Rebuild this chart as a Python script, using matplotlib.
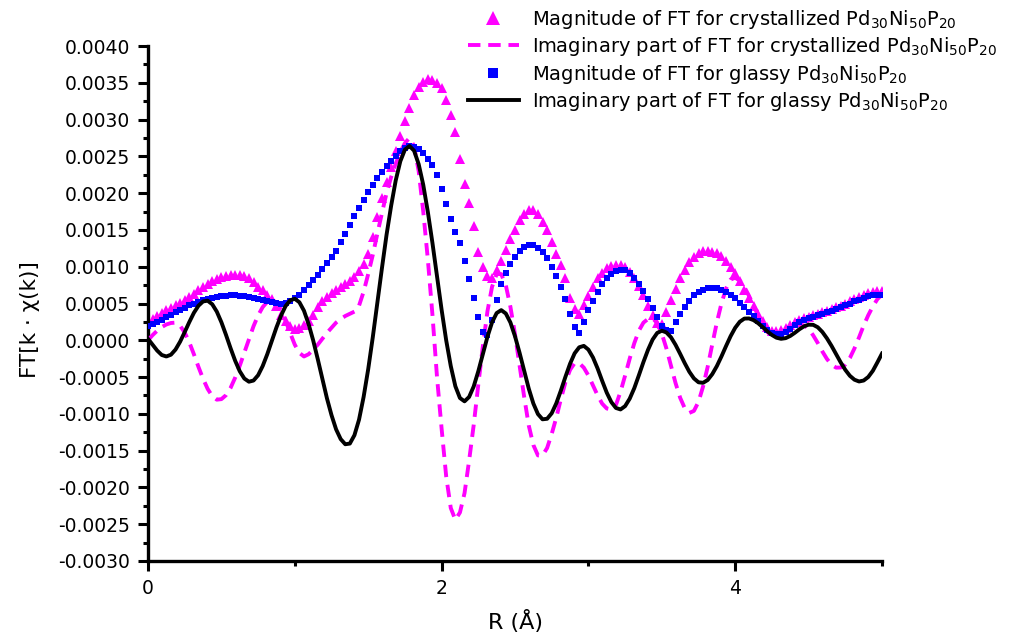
import numpy as np
import matplotlib
matplotlib.use("Agg")
import matplotlib.pyplot as plt
from matplotlib.ticker import MultipleLocator, FormatStrFormatter

plt.rcParams['font.family'] = ['DejaVu Sans']
plt.rcParams['mathtext.fontset'] = 'dejavusans'

# R grid (Å), step 1/32
R = np.linspace(0.0, 5.0, 161)

# All series values below are in units of 1e-3
mag_cryst = [
    0.26, 0.29, 0.33, 0.37, 0.41, 0.44, 0.48, 0.51, 0.55, 0.59,
    0.63, 0.68, 0.72, 0.77, 0.80, 0.83, 0.855, 0.875, 0.885, 0.89,
    0.885, 0.87, 0.84, 0.79, 0.73, 0.68, 0.62, 0.56, 0.46, 0.35,
    0.26, 0.19, 0.15, 0.17, 0.21, 0.26, 0.35, 0.45, 0.53, 0.59,
    0.64, 0.68, 0.72, 0.76, 0.80, 0.86, 0.94, 1.04, 1.17, 1.40,
    1.67, 1.93, 2.15, 2.36, 2.57, 2.78, 2.98, 3.16, 3.33, 3.44,
    3.51, 3.55, 3.54, 3.50, 3.43, 3.27, 3.06, 2.83, 2.46, 2.13,
    1.86, 1.55, 1.20, 1.00, 0.88, 0.84, 0.95, 1.08, 1.23, 1.37,
    1.50, 1.63, 1.72, 1.77, 1.77, 1.71, 1.61, 1.50, 1.33, 1.17,
    1.02, 0.84, 0.58, 0.42, 0.36, 0.48, 0.60, 0.73, 0.84, 0.92,
    0.985, 1.01, 1.03, 1.03, 1.00, 0.93, 0.85, 0.74, 0.61, 0.47,
    0.34, 0.24, 0.22, 0.38, 0.55, 0.70, 0.84, 0.96, 1.06, 1.13,
    1.18, 1.21, 1.21, 1.20, 1.18, 1.14, 1.08, 1.00, 0.91, 0.80,
    0.69, 0.58, 0.47, 0.36, 0.26, 0.18, 0.13, 0.12, 0.14, 0.17,
    0.21, 0.25, 0.28, 0.30, 0.32, 0.34, 0.36, 0.38, 0.40, 0.42,
    0.45, 0.47, 0.50, 0.53, 0.56, 0.59, 0.62, 0.64, 0.655, 0.665,
    0.67,
]

im_cryst = [
    0.0, 0.07, 0.13, 0.18, 0.215, 0.235, 0.24,
    0.197, 0.106, -0.027, -0.189, -0.362, -0.523, -0.66, -0.759, -0.807,
    -0.80, -0.746, -0.647, -0.508, -0.346, -0.168, 0.014, 0.191, 0.338, 0.451, 0.523,
    0.55, 0.516, 0.414, 0.266, 0.097, -0.06, -0.172, -0.22,
    -0.19, -0.13, -0.06, 0.02, 0.10, 0.17, 0.24, 0.29, 0.33, 0.36, 0.39, 0.47,
    0.66, 0.90, 1.16, 1.45, 1.73, 2.00, 2.22, 2.40, 2.56, 2.68, 2.75,
    2.64, 2.30, 1.75, 1.10, 0.35, -0.50, -1.20, -1.85, -2.28, -2.44,
    -2.34, -2.077, -1.634, -1.15, -0.602, -0.078, 0.396, 0.728, 0.90,
    0.90, 0.748, 0.455, 0.082, -0.345, -0.77, -1.158, -1.423, -1.565,
    -1.565, -1.464, -1.273, -1.051, -0.799, -0.569, -0.402, -0.31,
    -0.31, -0.372, -0.479, -0.613, -0.748, -0.861, -0.927, -0.94,
    -0.879, -0.70, -0.48, -0.25, -0.04, 0.13, 0.24, 0.29,
    0.30, 0.233, 0.091, -0.11, -0.345, -0.582, -0.781, -0.923, -0.987,
    -0.96, -0.837, -0.627, -0.361, -0.055, 0.243, 0.50, 0.703, 0.826, 0.85,
    0.809, 0.724, 0.605, 0.472, 0.335, 0.21, 0.114, 0.06,
    0.052, 0.071, 0.108, 0.151, 0.188, 0.208,
    0.202, 0.154, 0.067, -0.037, -0.152, -0.254, -0.332, -0.372,
    -0.37, -0.33, -0.24, -0.11, 0.04, 0.20, 0.34, 0.46, 0.56, 0.62,
]

mag_glass = [
    0.19, 0.22, 0.25, 0.28, 0.31, 0.35, 0.38, 0.415, 0.445, 0.475,
    0.50, 0.525, 0.545, 0.56, 0.575, 0.59, 0.60, 0.605, 0.61, 0.61,
    0.605, 0.60, 0.59, 0.575, 0.56, 0.545, 0.53, 0.515, 0.505, 0.50,
    0.51, 0.535, 0.57, 0.62, 0.68, 0.745, 0.815, 0.89, 0.97, 1.05,
    1.13, 1.22, 1.33, 1.45, 1.57, 1.69, 1.80, 1.91, 2.01, 2.11,
    2.20, 2.29, 2.37, 2.44, 2.51, 2.57, 2.61, 2.64, 2.63, 2.60,
    2.55, 2.47, 2.38, 2.24, 2.05, 1.85, 1.65, 1.47, 1.32, 1.08,
    0.83, 0.58, 0.32, 0.11, 0.07, 0.28, 0.55, 0.76, 0.92, 1.04,
    1.13, 1.21, 1.27, 1.30, 1.29, 1.25, 1.20, 1.12, 1.00, 0.87,
    0.72, 0.56, 0.36, 0.18, 0.10, 0.25, 0.41, 0.54, 0.66, 0.76,
    0.84, 0.90, 0.94, 0.96, 0.95, 0.91, 0.85, 0.77, 0.67, 0.56,
    0.44, 0.32, 0.20, 0.14, 0.12, 0.25, 0.36, 0.45, 0.54, 0.61,
    0.66, 0.69, 0.705, 0.71, 0.705, 0.69, 0.66, 0.62, 0.57, 0.51,
    0.45, 0.39, 0.33, 0.26, 0.20, 0.14, 0.10, 0.08, 0.08, 0.11,
    0.16, 0.21, 0.25, 0.28, 0.30, 0.32, 0.34, 0.36, 0.38, 0.40,
    0.43, 0.45, 0.48, 0.50, 0.53, 0.55, 0.58, 0.60, 0.61, 0.62,
    0.62,
]

im_glass = [
    0.02, -0.06, -0.14, -0.20, -0.22,
    -0.196, -0.126, -0.019, 0.112, 0.247, 0.373, 0.47, 0.528,
    0.538, 0.49, 0.389, 0.245, 0.074, -0.108, -0.278, -0.421, -0.52, -0.563,
    -0.547, -0.475, -0.35, -0.189, -0.006, 0.175, 0.336, 0.466, 0.544, 0.564,
    0.517, 0.402, 0.222, 0.0, -0.255, -0.521, -0.787, -1.017, -1.21, -1.343, -1.413,
    -1.404, -1.29, -1.079, -0.77, -0.393, 0.042, 0.513, 0.983, 1.434, 1.828, 2.173, 2.433, 2.591, 2.64,
    2.577, 2.394, 2.113, 1.745, 1.325, 0.867, 0.416, 0.0, -0.35, -0.625, -0.785, -0.83,
    -0.77, -0.627, -0.421, -0.186, 0.049, 0.244, 0.37, 0.41,
    0.364, 0.242, 0.055, -0.171, -0.417, -0.657, -0.859, -1.003, -1.074,
    -1.067, -0.992, -0.857, -0.683, -0.495, -0.319, -0.177, -0.095, -0.076,
    -0.127, -0.234, -0.382, -0.551, -0.712, -0.84, -0.92, -0.94,
    -0.895, -0.794, -0.651, -0.476, -0.295, -0.129, 0.01, 0.10, 0.13,
    0.107, 0.041, -0.062, -0.184, -0.311, -0.428, -0.518, -0.571, -0.578,
    -0.54, -0.46, -0.351, -0.22, -0.079, 0.056, 0.17, 0.252, 0.295,
    0.297, 0.274, 0.232, 0.178, 0.122, 0.072, 0.035, 0.02,
    0.029, 0.059, 0.102, 0.15, 0.19, 0.212,
    0.21, 0.177, 0.113, 0.026, -0.076, -0.19, -0.301, -0.402, -0.483, -0.536, -0.56,
    -0.547, -0.499, -0.415, -0.30, -0.18,
]

series_labels = [
    r'Magnitude of FT for crystallized Pd$_{30}$Ni$_{50}$P$_{20}$',
    r'Imaginary part of FT for crystallized Pd$_{30}$Ni$_{50}$P$_{20}$',
    r'Magnitude of FT for glassy Pd$_{30}$Ni$_{50}$P$_{20}$',
    r'Imaginary part of FT for glassy Pd$_{30}$Ni$_{50}$P$_{20}$',
]
x_label = 'R (Å)'
y_label = 'FT[k · χ(k)]'

UNIT = 1e-3

fig = plt.figure(figsize=(10.18, 6.37), dpi=100)
ax = fig.add_axes([148 / 1018, 76 / 637, 734 / 1018, 515 / 637])

MAG = '#FF00FF'
BLUE = '#0000FF'

h1, = ax.plot(R, np.array(mag_cryst) * UNIT, linestyle='none', marker='^',
              markersize=6.8, color=MAG, markeredgewidth=0, zorder=2)
h2, = ax.plot(R, np.array(im_cryst) * UNIT, linestyle=(0, (3.2, 2.0)),
              linewidth=2.8, color=MAG, zorder=3)
h3, = ax.plot(R, np.array(mag_glass) * UNIT, linestyle='none', marker='s',
              markersize=4.5, color=BLUE, markeredgewidth=0, zorder=4)
h4, = ax.plot(R, np.array(im_glass) * UNIT, linestyle='-',
              linewidth=2.8, color='black', zorder=5)

ax.set_xlim(0, 5)
ax.set_ylim(-0.003, 0.004)

ax.spines['top'].set_visible(False)
ax.spines['right'].set_visible(False)
for s in ('left', 'bottom'):
    ax.spines[s].set_linewidth(2.4)

ax.xaxis.set_major_locator(MultipleLocator(2))
ax.xaxis.set_minor_locator(MultipleLocator(1))
ax.yaxis.set_major_locator(MultipleLocator(0.0005))
ax.yaxis.set_minor_locator(MultipleLocator(0.00025))
ax.yaxis.set_major_formatter(FormatStrFormatter('%.4f'))

ax.tick_params(which='major', direction='out', length=7.2, width=2.2, labelsize=13.5, pad=6)
ax.tick_params(which='minor', direction='out', length=3.6, width=2.2)

ax.set_xlabel(x_label, fontsize=16)
ax.set_ylabel(y_label, fontsize=15.5)
ax.xaxis.set_label_coords(0.5, -0.095)
ax.yaxis.set_label_coords(-0.147, 0.468)

leg = fig.legend([h1, h2, h3, h4], series_labels,
                 loc='upper left', bbox_to_anchor=(468 / 1018, 1 - 8 / 637),
                 frameon=False, fontsize=14, handlelength=2.6, handletextpad=0.7,
                 labelspacing=0.22, borderpad=0, borderaxespad=0, numpoints=1,
                 markerscale=1.5)

fig.savefig('out.png', dpi=100)
